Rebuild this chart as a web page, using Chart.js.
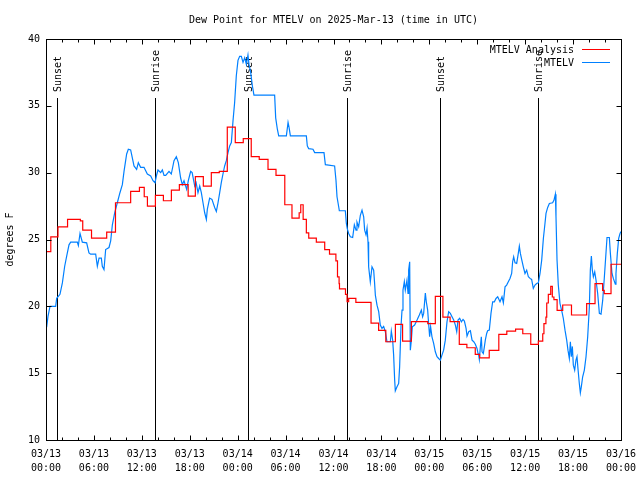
<!DOCTYPE html>
<html>
<head>
<meta charset="utf-8">
<script src="https://cdn.jsdelivr.net/npm/chart.js@4.4.1/dist/chart.umd.min.js"></script>
<style>
body{margin:0;background:#ffffff;}
canvas{display:block;}
</style>
</head>
<body>
<canvas id="mycanvas" width="640" height="480"></canvas>
<script>
// hours since 03/13 00:00 UTC
var tickDates = ["03/13","03/13","03/13","03/13","03/14","03/14","03/14","03/14","03/15","03/15","03/15","03/15","03/16"];
var tickTimes = ["00:00","06:00","12:00","18:00","00:00","06:00","12:00","18:00","00:00","06:00","12:00","18:00","00:00"];

var sunHours = [1.42, 13.65, 25.33, 37.73, 49.38, 61.65];
var sunLabels = ["Sunset","Sunrise","Sunset","Sunrise","Sunset","Sunrise"];

var analysisHours = [
    0, 0.6, 1.5, 2.7, 4.3, 4.6, 5.7, 7.6, 8.7, 10.6,
    11.7, 12.3, 12.7, 13.7, 14.7, 15.7, 16.7, 17.8, 18.7, 19.7,
    20.7, 21.7, 22.7, 23.7, 24.7, 25.7, 26.7, 27.8, 28.8, 29.9,
    30.8, 31.7, 31.9, 32.2, 32.6, 32.9, 33.85, 34.9, 35.5, 36.3,
    36.5, 36.7, 36.75, 37.5, 37.7, 37.9, 38.8, 40.7, 41.65, 42.55,
    43.75, 44.65, 45.75, 47.8, 48.75, 49.7, 50.6, 51.75, 52.7, 53.75,
    54.3, 55.5, 56.7, 57.7, 58.8, 59.7, 60.7, 61.65, 62.2, 62.35,
    62.6, 62.7, 62.9, 63.2, 63.4, 63.6, 64.0, 64.7, 65.8, 67.7,
    68.75, 69.7, 69.9, 70.75, 72
];
var analysisDew = [
    24.1, 25.2, 25.95, 26.5, 26.4, 25.7, 25.1, 25.55, 27.75, 28.6,
    28.9, 28.2, 27.5, 28.3, 27.9, 28.7, 29.1, 28.25, 29.7, 29.0,
    30.0, 30.1, 33.4, 32.25, 32.55, 31.2, 31.0, 30.25, 29.8, 27.6,
    26.6, 27.0, 27.6, 26.5, 25.5, 25.1, 24.8, 24.25, 23.9, 23.4,
    22.2, 21.7, 21.3, 20.9, 20.35, 20.6, 20.3, 18.75, 18.2, 17.35,
    18.65, 17.4, 18.85, 18.7, 20.75, 19.2, 18.85, 17.15, 16.9, 16.4,
    16.15, 16.7, 17.9, 18.15, 18.3, 17.95, 17.15, 17.4, 17.95, 18.7,
    19.2, 20.25, 20.9, 21.5, 20.7, 20.5, 19.7, 20.1, 19.35, 20.2,
    21.7, 21.2, 20.95, 23.15, 23.15
];

var stationHours = [
    0.08, 0.25, 0.5, 1.21, 1.34, 1.75, 2.05, 2.34, 2.59, 2.88,
    3.09, 3.92, 4.05, 4.26, 4.55, 5.09, 5.38, 5.59, 6.22, 6.43,
    6.64, 6.93, 7.05, 7.26, 7.47, 7.89, 8.1, 8.31, 8.6, 8.93,
    9.26, 9.56, 9.77, 10.1, 10.31, 10.6, 10.81, 11.02, 11.35, 11.56,
    11.85, 12.27, 12.69, 13.11, 13.4, 13.65, 13.82, 14.02, 14.36, 14.57,
    14.78, 14.99, 15.4, 15.69, 16.03, 16.32, 16.57, 16.86, 17.07, 17.28,
    17.61, 17.82, 18.03, 18.12, 18.3, 18.62, 18.8, 19.03, 19.25, 19.45,
    19.66, 19.87, 20.08, 20.2, 20.49, 20.78, 21.12, 21.33, 21.54, 21.75,
    21.95, 22.16, 22.37, 22.58, 22.79, 23.0, 23.21, 23.42, 23.62, 23.83,
    24.04, 24.25, 24.46, 24.67, 24.88, 25.09, 25.29, 25.42, 25.63, 25.84,
    26.04, 28.63, 28.76, 28.97, 29.14, 30.1, 30.31, 30.43, 30.6, 32.6,
    32.72, 32.89, 33.43, 33.64, 34.81, 34.98, 36.14, 36.31, 36.44, 36.65,
    36.73, 37.48, 37.61, 37.73, 37.9, 38.11, 38.4, 38.61, 38.82, 38.94,
    39.15, 39.36, 39.57, 39.78, 39.9, 40.07, 40.2, 40.32, 40.4, 40.61,
    40.82, 41.03, 41.15, 41.24, 41.45, 41.66, 41.86, 42.07, 42.28, 42.49,
    42.7, 43.12, 43.24, 43.41, 43.53, 43.66, 43.74, 43.95, 44.16, 44.28,
    44.45, 44.58, 44.7, 44.87, 44.99, 45.2, 45.33, 45.41, 45.54, 45.62,
    45.75, 45.87, 46.16, 46.46, 46.75, 47.0, 47.16, 47.29, 47.5, 47.62,
    47.79, 47.91, 48.04, 48.16, 48.33, 48.54, 48.75, 48.96, 49.17, 49.38,
    49.58, 49.79, 50.0, 50.21, 50.42, 50.63, 50.84, 51.05, 51.26, 51.43,
    51.59, 51.8, 52.01, 52.22, 52.39, 52.6, 52.72, 52.93, 53.14, 53.35,
    53.56, 53.76, 53.97, 54.1, 54.18, 54.26, 54.39, 54.51, 54.6, 54.76,
    54.89, 55.01, 55.18, 55.3, 55.51, 55.72, 55.93, 56.14, 56.35, 56.56,
    56.85, 57.1, 57.27, 57.48, 57.68, 57.89, 58.1, 58.31, 58.43, 58.56,
    58.73, 58.94, 59.14, 59.27, 59.4, 59.56, 59.77, 59.98, 60.19, 60.4,
    60.61, 60.81, 61.02, 61.23, 61.44, 61.65, 61.86, 62.07, 62.28, 62.48,
    62.61, 62.82, 63.03, 63.44, 63.61, 63.78, 63.86, 63.99, 64.15, 64.36,
    64.61, 64.78, 64.99, 65.2, 65.36, 65.53, 65.66, 65.78, 65.91, 66.03,
    66.2, 66.36, 66.49, 66.61, 66.78, 66.91, 67.03, 67.2, 67.41, 67.62,
    67.83, 68.04, 68.16, 68.29, 68.41, 68.54, 68.71, 68.87, 69.08, 69.29,
    69.5, 69.71, 69.92, 70.13, 70.25, 70.54, 70.67, 70.87, 71.04, 71.29,
    71.37, 71.54, 71.71, 71.88, 72
];
var stationDew = [
    18.45, 19.25, 20.0, 20.0, 20.6, 20.9, 21.75, 23.0, 23.75, 24.6,
    24.8, 24.8, 24.55, 25.45, 24.8, 24.75, 24.0, 23.9, 23.9, 23.0,
    23.6, 23.6, 23.0, 22.75, 24.25, 24.4, 24.9, 26.1, 27.0, 27.75,
    28.5, 29.1, 30.1, 31.4, 31.75, 31.7, 31.1, 30.5, 30.25, 30.75,
    30.4, 30.4, 29.9, 29.75, 29.4, 29.25, 29.75, 30.2, 30.0, 30.2,
    29.8, 29.8, 30.1, 29.9, 30.9, 31.2, 30.75, 29.6, 29.1, 29.4,
    28.75, 29.4, 29.9, 30.1, 30.0, 29.0, 29.25, 28.5, 29.0, 28.5,
    27.75, 27.0, 26.5, 27.25, 28.1, 28.0, 27.4, 27.1, 27.75, 28.5,
    29.25, 29.9, 30.5, 30.9, 31.5, 32.0, 32.25, 33.9, 35.25, 37.25,
    38.4, 38.7, 38.7, 38.25, 38.6, 38.1, 38.8, 38.1, 37.5, 36.5,
    35.8, 35.8, 34.1, 33.25, 32.75, 32.75, 33.75, 33.4, 32.75, 32.75,
    32.0, 31.8, 31.75, 31.5, 31.5, 30.6, 30.5, 29.44, 28.2, 27.45,
    27.15, 27.15, 26.2, 25.8, 25.45, 25.2, 25.15, 26.1, 25.7, 26.3,
    25.95, 26.8, 27.2, 26.7, 25.7, 25.35, 25.85, 24.83, 22.96, 21.84,
    22.96, 22.7, 21.7, 20.84, 20.09, 19.6, 18.6, 18.35, 18.5, 18.1,
    17.35, 17.35, 18.15, 17.45, 16.35, 14.48, 13.68, 13.98, 14.23, 15.47,
    18.47, 19.72, 21.21, 21.84, 21.21, 21.96, 20.96, 22.71, 23.33, 16.72,
    17.47, 18.47, 18.6, 18.97, 19.35, 19.72, 19.22, 19.47, 21.0, 20.34,
    19.72, 18.72, 17.72, 18.47, 17.72, 17.23, 16.6, 16.23, 16.1, 15.98,
    16.35, 16.72, 17.47, 18.84, 19.6, 19.47, 19.22, 18.97, 18.6, 18.1,
    18.97, 19.1, 18.84, 19.02, 18.9, 18.35, 17.77, 18.1, 18.17, 17.47,
    17.35, 17.17, 16.85, 16.47, 16.35, 16.03, 16.97, 17.72, 16.6, 16.47,
    16.97, 17.47, 17.97, 18.17, 18.22, 19.47, 20.34, 20.34, 20.59, 20.71,
    20.34, 20.71, 20.26, 21.46, 21.59, 21.84, 22.09, 22.46, 23.33, 23.71,
    23.26, 23.21, 23.96, 24.5, 23.96, 23.51, 22.96, 22.46, 22.71, 22.21,
    22.09, 22.01, 21.34, 21.59, 21.71, 21.76, 22.46, 23.46, 25.08, 26.2,
    26.95, 27.4, 27.7, 27.75, 27.95, 28.39, 26.7, 23.46, 21.59, 20.21,
    19.59, 19.09, 18.22, 17.47, 16.72, 16.1, 17.35, 16.23, 17.0, 15.6,
    15.23, 15.97, 16.23, 15.35, 14.23, 13.53, 13.98, 14.73, 15.23, 16.23,
    17.72, 19.97, 22.71, 23.76, 22.71, 22.21, 22.58, 21.96, 20.96, 19.47,
    19.42, 20.46, 22.21, 24.08, 25.15, 25.15, 23.96, 22.46, 22.09, 21.66,
    22.46, 23.96, 25.08, 25.45, 25.6
];

var FONT = '"DejaVu Sans Mono", "Liberation Mono", monospace';

function toPoints(xs, ys){
    var pts = [];
    for(var i = 0; i < xs.length; i++){
        pts.push({x: xs[i], y: ys[i]});
    }
    return pts;
}

function crisp(v){
    return Math.round(v) + 0.5;
}

var gnuplotFrame = {
    id: 'gnuplotFrame',
    beforeDatasetsDraw: function(chart){
        var ctx = chart.ctx;
        var area = chart.chartArea;
        var xs = chart.scales.x;
        ctx.save();
        ctx.strokeStyle = '#000000';
        ctx.lineWidth = 1;
        ctx.fillStyle = '#000000';
        ctx.font = '10px ' + FONT;
        for(var i = 0; i < sunHours.length; i++){
            var px = crisp(xs.getPixelForValue(sunHours[i]));
            ctx.beginPath();
            ctx.moveTo(px, area.top + 59);
            ctx.lineTo(px, area.bottom);
            ctx.stroke();

            ctx.save();
            ctx.translate(px + 1, area.top + 53);
            ctx.rotate(-Math.PI / 2);
            ctx.textAlign = 'left';
            ctx.textBaseline = 'middle';
            ctx.fillText(sunLabels[i], 0, 0);
            ctx.restore();
        }
        ctx.restore();
    },
    afterDatasetsDraw: function(chart){
        var ctx = chart.ctx;
        var area = chart.chartArea;
        var xs = chart.scales.x;
        var ys = chart.scales.y;
        var l = crisp(area.left), r = crisp(area.right), t = crisp(area.top), b = crisp(area.bottom);
        ctx.save();
        ctx.strokeStyle = '#000000';
        ctx.lineWidth = 1;
        ctx.strokeRect(l, t, r - l, b - t);

        ctx.beginPath();
        for(var h = 0; h <= 72; h += 2){
            var len = (h % 6 === 0) ? 5 : 3;
            var px = crisp(xs.getPixelForValue(h));
            ctx.moveTo(px, b); ctx.lineTo(px, b - len);
            ctx.moveTo(px, t); ctx.lineTo(px, t + len);
        }
        for(var v = 10; v <= 40; v += 5){
            var py = crisp(ys.getPixelForValue(v));
            ctx.moveTo(l, py); ctx.lineTo(l + 5, py);
            ctx.moveTo(r, py); ctx.lineTo(r - 5, py);
        }
        ctx.stroke();

        // legend, top right
        ctx.font = '10px ' + FONT;
        ctx.textAlign = 'right';
        ctx.textBaseline = 'middle';
        ctx.fillStyle = '#000000';
        var sets = chart.data.datasets;
        for(var i = 0; i < sets.length; i++){
            var ly = area.top + 11 + i * 13;
            ctx.fillText(sets[i].label, area.right - 47, ly);
            ctx.strokeStyle = sets[i].borderColor;
            ctx.beginPath();
            ctx.moveTo(area.right - 39, crisp(ly - 1));
            ctx.lineTo(area.right - 11, crisp(ly - 1));
            ctx.stroke();
        }
        ctx.restore();
    }
};

var canvas = document.getElementById('mycanvas');

var myChart = new Chart(canvas, {
    type: 'line',
    data: {
        datasets: [
            {
                label: 'MTELV Analysis',
                data: toPoints(analysisHours, analysisDew),
                borderColor: '#ff0000',
                borderWidth: 1.2,
                pointRadius: 0,
                stepped: true,
                fill: false
            },
            {
                label: 'MTELV',
                data: toPoints(stationHours, stationDew),
                borderColor: '#0080ff',
                borderWidth: 1.2,
                pointRadius: 0,
                tension: 0,
                fill: false
            }
        ]
    },
    options: {
        responsive: false,
        animation: false,
        devicePixelRatio: 1,
        layout: {
            padding: {left: 0, right: 19, top: 0, bottom: 0}
        },
        plugins: {
            legend: {display: false},
            tooltip: {enabled: false},
            title: {
                display: true,
                fullSize: false,
                text: 'Dew Point for MTELV on 2025-Mar-13 (time in UTC)',
                color: '#000000',
                font: {family: FONT, size: 10, weight: 'normal'},
                padding: {top: 14, bottom: 13}
            }
        },
        scales: {
            x: {
                type: 'linear',
                min: 0,
                max: 72,
                grid: {display: false, drawTicks: false},
                border: {display: false},
                afterFit: function(scale){
                    scale.height = 40;
                    scale.paddingLeft = 0;
                    scale.paddingRight = 0;
                },
                ticks: {
                    stepSize: 6,
                    autoSkip: false,
                    maxRotation: 0,
                    padding: 7,
                    color: '#000000',
                    font: {family: FONT, size: 10, lineHeight: 1.4},
                    callback: function(value){
                        var i = Math.round(value / 6);
                        return [tickDates[i], tickTimes[i]];
                    }
                }
            },
            y: {
                min: 10,
                max: 40,
                grid: {display: false, drawTicks: false},
                border: {display: false},
                afterFit: function(scale){ scale.width = 46; },
                title: {
                    display: true,
                    text: 'degrees F',
                    color: '#000000',
                    font: {family: FONT, size: 10},
                    padding: {top: 4, bottom: 0}
                },
                ticks: {
                    stepSize: 5,
                    padding: 6,
                    color: '#000000',
                    font: {family: FONT, size: 10}
                }
            }
        }
    },
    plugins: [gnuplotFrame]
});
</script>
</body>
</html>
